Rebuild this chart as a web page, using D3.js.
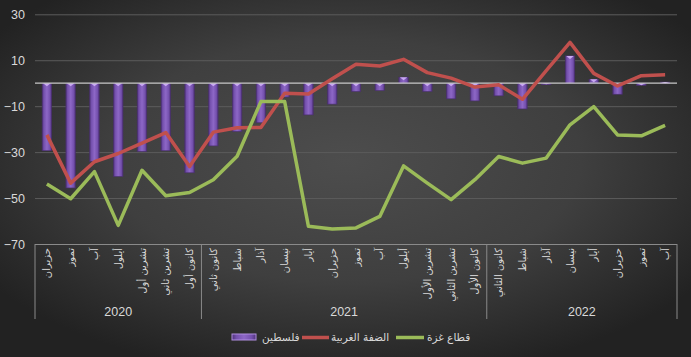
<!DOCTYPE html>
<html><head><meta charset="utf-8">
<script src="https://cdn.jsdelivr.net/npm/d3@7"></script>
<style>
html,body{margin:0;padding:0;background:#2a2a2a;}
svg{display:block;font-family:"Liberation Sans","DejaVu Sans",sans-serif;}
</style></head>
<body><svg id="c" width="691" height="357"></svg>
<script>
const months = ["حزيران","تموز","آب","أيلول","تشرين أول","تشرين ثاني","كانون أول",
 "كانون ثاني","شباط","آذار","نيسان","أيار","حزيران","تموز","آب","أيلول","تشرين الأول","تشرين الثاني","كانون الأول",
 "كانون الثاني","شباط","آذار","نيسان","أيار","حزيران","تموز","آب"];
const years = ["2020","2021","2022"];
const yearCounts = [7,12,8];
const palestine = [-29.4,-45.6,-34,-40.6,-29.7,-29.4,-39,-27.3,-21,-17.2,-6,-13.8,-9.1,-3.6,-3.2,2.6,-3.6,-6.8,-7.7,-5.5,-11.2,-0.5,11.9,1.7,-4.8,-0.9,0.5];
const westBank = [-22.5,-43.5,-34.2,-30.6,-26.1,-21.5,-36.3,-21.3,-19.4,-19.3,-4.4,-4.7,1.9,8.3,7.5,10.4,4.6,2.2,-1.7,-0.7,-7,5.5,17.8,4.3,-1.2,3.3,3.7];
const gaza = [-43.9,-50.3,-38.5,-61.9,-37.9,-49,-47.6,-42,-31.8,-8,-8,-62.3,-63.5,-63,-58,-36,-43.5,-50.7,-42,-31.9,-34.8,-32.6,-18.1,-10.2,-22.5,-22.9,-18.4];
const yTicks = [-70,-50,-30,-10,10,30];
const seriesNames = ["فلسطين","الضفة الغربية","قطاع غزة"];

const W=691,H=357;
const svg=d3.select("#c");
const defs=svg.append("defs");
const bg=defs.append("radialGradient").attr("id","bg").attr("cx","50%").attr("cy","45%").attr("r","62%");
bg.append("stop").attr("offset","0%").attr("stop-color","#4d4d4d");
bg.append("stop").attr("offset","55%").attr("stop-color","#3f3f3f");
bg.append("stop").attr("offset","100%").attr("stop-color","#222222");
const bg2=defs.append("linearGradient").attr("id","barg").attr("x1","0").attr("x2","1").attr("y1","0").attr("y2","0");
[["0%","#4e3178"],["18%","#7450ad"],["50%","#8d67c6"],["82%","#7450ad"],["100%","#4e3178"]].forEach(s=>bg2.append("stop").attr("offset",s[0]).attr("stop-color",s[1]));
svg.append("rect").attr("width",W).attr("height",H).attr("fill","url(#bg)");

const idx=d3.range(months.length);
const x=d3.scaleBand().domain(idx).range([35,677]).paddingInner(0.6).paddingOuter(0.3);
const y=d3.scaleLinear().domain([-70,30]).range([244,14.3]);
const cx=i=>x(i)+x.bandwidth()/2;

// grid + y axis
const ya=svg.append("g").attr("transform","translate(35,0)")
 .call(d3.axisLeft(y).tickValues(yTicks).tickSize(-642).tickPadding(10).tickFormat(d3.format("d")));
ya.select(".domain").remove();
ya.selectAll(".tick line").attr("stroke","#5c5c5c").attr("stroke-width",1);
ya.selectAll(".tick text").attr("fill","#d9d9d9").attr("font-size",12.5).attr("font-family","Liberation Sans, DejaVu Sans");

// bars
const bars=svg.append("g");
idx.forEach(i=>{
  const v=palestine[i];
  const y0=Math.min(y(0),y(v)), h=Math.abs(y(v)-y(0));
  bars.append("rect").attr("x",x(i)).attr("y",y0).attr("width",x.bandwidth()).attr("height",Math.max(h,1.5))
    .attr("fill","url(#barg)").attr("stroke","#4a2f70").attr("stroke-width",0.6);
  const cw=x.bandwidth();
  bars.append("path").attr("d",`M${x(i)+1},${y0} L${x(i)+cw-1},${y0} L${x(i)+cw/2},${y0+Math.min(3,h)} Z`).attr("fill","#c9a9f2");
});
// zero line
svg.append("line").attr("x1",35).attr("x2",677).attr("y1",y(0)).attr("y2",y(0)).attr("stroke","#c8c8c8").attr("stroke-width",1.2);

// lines
const line=d3.line().x((d,i)=>cx(i)).y(d=>y(d));
svg.append("path").datum(westBank).attr("d",line).attr("fill","none").attr("stroke","#c0504d").attr("stroke-width",3.5).attr("stroke-linejoin","round");
svg.append("path").datum(gaza).attr("d",line).attr("fill","none").attr("stroke","#9bbb59").attr("stroke-width",3.5).attr("stroke-linejoin","round");

// x axis
const xa=svg.append("g").attr("transform","translate(0,244)")
 .call(d3.axisBottom(x).tickSize(0).tickFormat(i=>months[i]));
xa.select(".domain").attr("stroke","#8a8a8a").attr("d","M35,0.5H677");
xa.selectAll(".tick text").attr("fill","#d9d9d9").attr("font-size",10).attr("font-family","DejaVu Sans")
  .attr("transform","translate(0,4) rotate(-90)").attr("text-anchor","end").attr("dy","0.35em").attr("y",0).attr("x",0);

// year groups
let start=0;
const bounds=[35];
yearCounts.forEach((n,k)=>{
  const x0=x(start)-x.step()*x.paddingInner()/2 - (start===0?x.step()*0.3- x.step()*0.3:0);
  const end=start+n;
  const xr = end<months.length ? x(end)-x.step()*x.paddingInner()/2 : 677;
  const xl = start===0 ? 35 : x(start)-x.step()*x.paddingInner()/2;
  bounds.push(xr);
  svg.append("text").attr("x",(xl+xr)/2).attr("y",315.5).attr("text-anchor","middle").attr("fill","#d9d9d9")
    .attr("font-size",12.5).attr("font-family","Liberation Sans, DejaVu Sans").text(years[k]);
  start=end;
});
bounds.forEach(b=>svg.append("line").attr("x1",b).attr("x2",b).attr("y1",244).attr("y2",319).attr("stroke","#8a8a8a").attr("stroke-width",1));

// legend
const lg=svg.append("g").attr("font-family","DejaVu Sans").attr("font-size",10.5).attr("fill","#d9d9d9");
lg.append("rect").attr("x",232).attr("y",334).attr("width",24).attr("height",6).attr("fill","url(#barg)").attr("stroke","#b08ee0").attr("stroke-width",1);
lg.append("text").attr("x",262).attr("y",341).text(seriesNames[0]);
lg.append("line").attr("x1",302).attr("x2",329).attr("y1",337.5).attr("y2",337.5).attr("stroke","#c0504d").attr("stroke-width",3.5);
lg.append("text").attr("x",331).attr("y",341).text(seriesNames[1]);
lg.append("line").attr("x1",396).attr("x2",424).attr("y1",337.5).attr("y2",337.5).attr("stroke","#9bbb59").attr("stroke-width",3.5);
lg.append("text").attr("x",427).attr("y",341).text(seriesNames[2]);
</script></body></html>
